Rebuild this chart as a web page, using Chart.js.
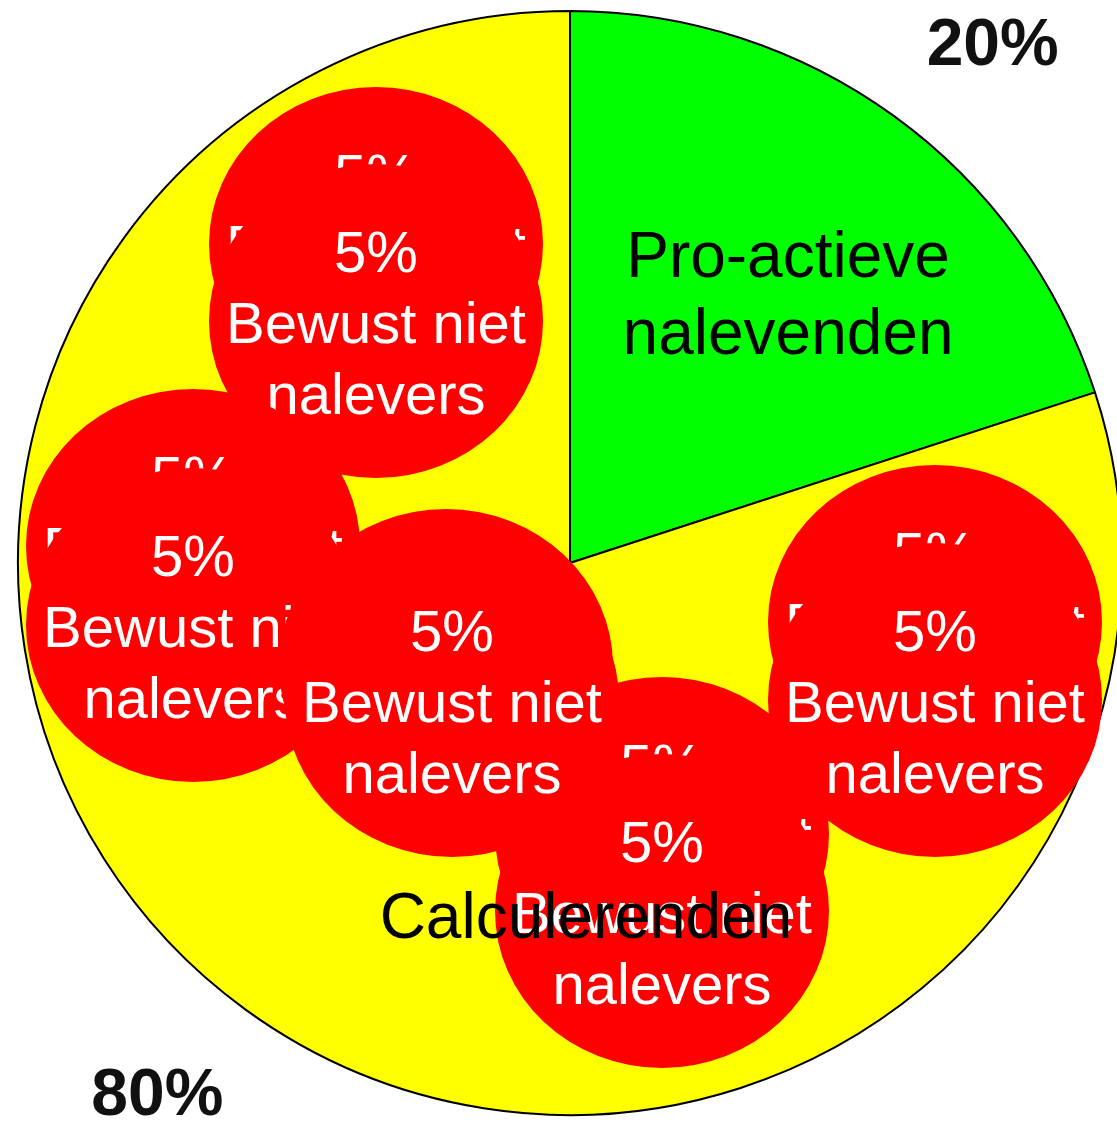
<!DOCTYPE html>
<html>
<head>
<meta charset="utf-8">
<script src="https://cdn.jsdelivr.net/npm/chart.js@4.4.1/dist/chart.umd.min.js"></script>
<style>
  html, body { margin: 0; padding: 0; background: #fff; overflow: hidden; }
  #wrap { position: relative; width: 1117px; height: 1122px; overflow: hidden; }
  #taart { position: absolute; left: 0; top: 0; }
  #bellen { position: absolute; left: -160px; top: -160px; }
</style>
</head>
<body>
<div id="wrap">
  <canvas id="taart" width="1140" height="1126"></canvas>
  <canvas id="bellen" width="1437" height="1442"></canvas>
</div>
<script>
// Taart: categorieën en aandelen
const categories = [['Pro-actieve', 'nalevenden'], ['Calculerenden']];
const shares = [20, 80];
const shareLabels = ['20%', '80%'];

// Bellen "Bewust niet nalevers", elk uit een bovenste en onderste schijf
const bubbleName = ['Bewust niet', 'nalevers'];
const bubbleShare = ['5%', '5%', '5%', '5%', '5%'];
const bubbleTopX = [376, 193, 662, 446, 935];
const bubbleTopY = [244, 546, 834, 666, 622];
const bubbleBotX = [376, 193, 662, 452, 935];
const bubbleBotY = [321, 625, 911, 700, 700];

const FONT = '"Liberation Sans", Arial, Helvetica, sans-serif';
const BUBBLE_R = 160;          // moet gelijk zijn aan de verschuiving van #bellen
const DISC_W = 334, DISC_H = 314;

// plaats van de namen in de taart (fractie van de straal, t.o.v. middelpunt)
const namePos = [[0.395, -0.518], [0.029, 0.679]];

// --- taart ---
const taart = new Chart(document.getElementById('taart'), {
  type: 'pie',
  data: {
    labels: categories,
    datasets: [{
      data: shares,
      backgroundColor: ['#00ff00', '#ffff00'],
      borderColor: '#000',
      borderWidth: 2
    }]
  },
  options: {
    responsive: false,
    animation: false,
    events: [],
    layout: { padding: 10 },
    plugins: { legend: { display: false }, tooltip: { enabled: false } }
  }
});

// iets ovale rode schijf als puntstijl
const disc = document.createElement('canvas');
disc.width = DISC_W;
disc.height = DISC_H;
const dctx = disc.getContext('2d');
dctx.fillStyle = '#ff0000';
dctx.beginPath();
dctx.ellipse(DISC_W / 2, DISC_H / 2, DISC_W / 2, DISC_H / 2, 0, 0, Math.PI * 2);
dctx.fill();

// tekst in elke bel, direct na het tekenen van die schijf
const bubbleText = {
  id: 'bubbleText',
  afterDatasetDraw(chart, args) {
    const ds = chart.data.datasets[args.index];
    const pt = args.meta.data[0];
    const ctx = chart.ctx;
    const lines = [ds.share].concat(bubbleName);
    ctx.save();
    ctx.fillStyle = '#fff';
    ctx.font = '58px ' + FONT;
    ctx.textAlign = 'center';
    ctx.textBaseline = 'alphabetic';
    lines.forEach((l, i) => ctx.fillText(l, pt.x, pt.y - 49 + i * 71));
    ctx.restore();
  }
};

// namen en percentages van de taart, bovenop de bellen
const pieLabels = {
  id: 'pieLabels',
  afterDraw(chart) {
    const ctx = chart.ctx;
    taart.getDatasetMeta(0).data.forEach((arc, i) => {
      const p = arc.getProps(['x', 'y', 'outerRadius', 'startAngle', 'endAngle'], true);
      const r = p.outerRadius;
      ctx.save();
      // taart-canvas staat op (0,0), dit canvas is verschoven met het grafiekgebied
      ctx.translate(chart.chartArea.left, chart.chartArea.top);
      ctx.fillStyle = '#000';
      ctx.textAlign = 'center';
      ctx.textBaseline = 'alphabetic';
      ctx.font = '64px ' + FONT;
      categories[i].forEach((l, j) => {
        ctx.fillText(l, p.x + namePos[i][0] * r, p.y + namePos[i][1] * r + j * 77);
      });
      const mid = (p.startAngle + p.endAngle) / 2 + 0.044;
      ctx.fillStyle = '#111';
      ctx.font = 'bold 66px ' + FONT;
      ctx.textBaseline = 'middle';
      ctx.fillText(shareLabels[i], p.x + Math.cos(mid) * r * 1.215 + 5, p.y + Math.sin(mid) * r * 1.215 + 9);
      ctx.restore();
    });
  }
};

// datasets in tekenvolgorde: per bel eerst boven, dan onder
const bubbleSets = [];
bubbleShare.forEach((s, i) => {
  bubbleSets.push({ share: s, data: [{ x: bubbleTopX[i], y: bubbleTopY[i], r: BUBBLE_R }] });
  bubbleSets.push({ share: s, data: [{ x: bubbleBotX[i], y: bubbleBotY[i], r: BUBBLE_R }] });
});
bubbleSets.forEach((ds, i) => {
  ds.order = bubbleSets.length - i;
  ds.backgroundColor = '#ff0000';
  ds.borderWidth = 0;
  ds.pointStyle = disc;
  ds.clip = false;
});

new Chart(document.getElementById('bellen'), {
  type: 'bubble',
  data: { datasets: bubbleSets },
  options: {
    responsive: false,
    animation: false,
    events: [],
    layout: { padding: 0 },
    scales: {
      x: { display: false, min: 0, max: 1117 },
      y: { display: false, min: 0, max: 1122, reverse: true }
    },
    plugins: { legend: { display: false }, tooltip: { enabled: false } }
  },
  plugins: [bubbleText, pieLabels]
});
</script>
</body>
</html>
